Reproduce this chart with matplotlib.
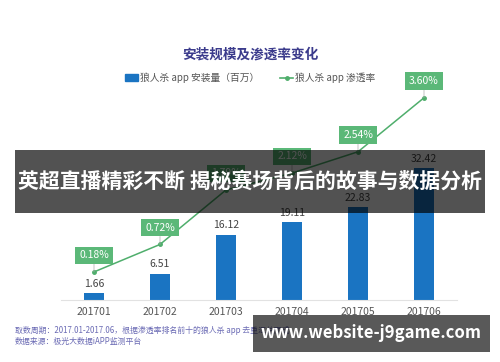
import matplotlib
matplotlib.use("Agg")
import matplotlib.pyplot as plt
from matplotlib.patches import Rectangle
from matplotlib.lines import Line2D

plt.rcParams['font.family'] = ['Noto Sans CJK SC', 'DejaVu Sans']

months = ["201701", "201702", "201703", "201704", "201705", "201706"]
installs = [1.66, 6.51, 16.12, 19.11, 22.83, 32.42]
penetration = [0.18, 0.72, 1.79, 2.12, 2.54, 3.60]

bar_color = "#1a74c2"
line_color = "#4fae6c"
box_color = "#5bb878"

fig = plt.figure(figsize=(5, 3.62), dpi=100)
ax = fig.add_axes([0.122, 0.171, 0.792, 0.580])
x = list(range(len(months)))

bars = ax.bar(x, installs, 0.3, color=bar_color, zorder=2)
ax.bar_label(bars, labels=[f"{v:.2f}" for v in installs], padding=3, fontsize=7.5, color="#444444")
ax.set_xlim(-0.5, 5.5)
ax.set_ylim(0, 51.6)
ax.set_xticks(x)
ax.set_xticklabels(months, fontsize=7.5, color="#555555")
ax.tick_params(axis="x", length=0, pad=5)
ax.set_yticks([])
for s in ["left", "right", "top"]:
    ax.spines[s].set_visible(False)
ax.spines["bottom"].set_color("#e2e2e2")

ax2 = ax.twinx()
ax2.set_ylim(-0.373, 3.75)
ax2.plot(x, penetration, color=line_color, lw=1.1, marker="o", ms=2.5, zorder=3)
for xi, p in zip(x, penetration):
    ax2.annotate(f"{p:.2f}%", (xi, p), xytext=(0, 12), textcoords="offset points",
                 ha="center", va="center", fontsize=7.5, color="white",
                 bbox=dict(boxstyle="square,pad=0.35", fc=box_color, ec="none"),
                 arrowprops=dict(arrowstyle="-", color="#aaaaaa", lw=0.5, shrinkA=0, shrinkB=0))
ax2.axis("off")

fig.text(0.5, 1 - 55 / 362, "安装规模及渗透率变化", ha="center", va="center",
         fontsize=9.8, fontweight="bold", color="#3b3b8c")

handles = [Rectangle((0, 0), 1, 0.5, color=bar_color),
           Line2D([], [], color=line_color, marker="o", ms=2.5, lw=1.2)]
fig.legend(handles, ["狼人杀 app 安装量（百万）", "狼人杀 app 渗透率"], loc="center",
           bbox_to_anchor=(0.5, 1 - 78 / 362), ncol=2, frameon=False, fontsize=7,
           labelcolor="#555555", handlelength=1.3, handletextpad=0.2, columnspacing=2.2)

fig.text(0.03, 1 - 330 / 362, "取数周期：2017.01-2017.06，根据渗透率排名前十的狼人杀 app 去重汇总而成",
         fontsize=5.7, color="#6a6ab4", va="center")
fig.text(0.03, 1 - 341 / 362, "数据来源：极光大数据iAPP监测平台",
         fontsize=5.7, color="#6a6ab4", va="center")

# overlay bands
fig.patches.append(Rectangle((0.03, 1 - 213 / 362), 0.94, 63 / 362, transform=fig.transFigure,
                             fc="black", alpha=0.68, ec="none", zorder=10))
fig.text(0.5, 1 - 181 / 362, "英超直播精彩不断 揭秘赛场背后的故事与数据分析", ha="center", va="center",
         fontsize=15.0, fontweight="bold", color="white", zorder=11)
fig.patches.append(Rectangle((0.506, 1 - 352 / 362), 0.474, 37 / 362, transform=fig.transFigure,
                             fc="black", alpha=0.65, ec="none", zorder=10))
fig.text(0.742, 1 - 333 / 362, "www.website-j9game.com", ha="center", va="center",
         fontsize=12, fontweight="bold", color="white", zorder=11)

fig.savefig("out.png", dpi=100)
